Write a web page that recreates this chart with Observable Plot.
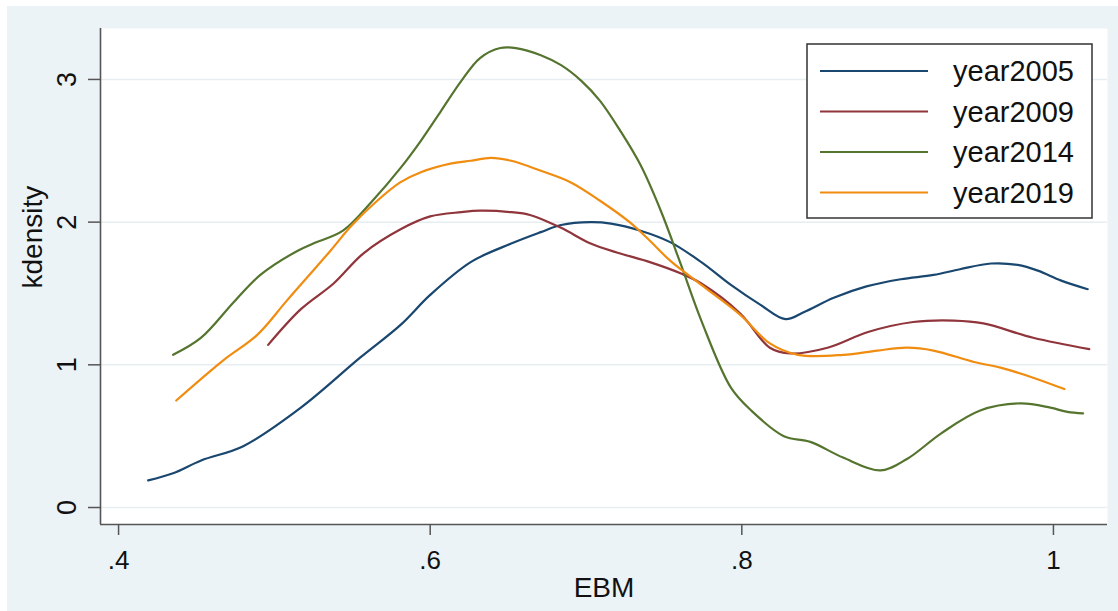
<!DOCTYPE html>
<html>
<head>
<meta charset="utf-8">
<script src="https://cdn.jsdelivr.net/npm/d3@7"></script>
<script src="https://cdn.jsdelivr.net/npm/@observablehq/plot@0.6"></script>
<style>
  html, body { margin: 0; padding: 0; background: #ffffff; }
  #wrap { position: relative; width: 1118px; height: 611px; overflow: hidden; font-family: "Liberation Sans", Arial, sans-serif; }
  #bg { position: absolute; left: 7px; top: 6px; right: 0; bottom: 0; background: #ecf3f6; }
  #chart { position: absolute; left: 0; top: 0; }
  #legend { position: absolute; left: 0; top: 0; }
</style>
</head>
<body>
<div id="wrap"><div id="bg"></div><div id="chart"></div><svg id="legend" width="1118" height="611"></svg></div>
<script>
// ---- data ----
const years = ["year2005", "year2009", "year2014", "year2019"];
const colors = ["#1a476f", "#90353b", "#55752f", "#f08c10"];

const x2005 = [0.419, 0.435, 0.453, 0.480, 0.517, 0.555, 0.581, 0.600, 0.626, 0.652, 0.671, 0.684, 0.703, 0.716, 0.735, 0.754, 0.774, 0.793, 0.812, 0.828, 0.840, 0.859, 0.880, 0.902, 0.923, 0.940, 0.960, 0.977, 0.990, 1.005, 1.022];
const d2005 = [0.19, 0.24, 0.33, 0.43, 0.70, 1.05, 1.28, 1.49, 1.72, 1.85, 1.93, 1.98, 2.00, 1.99, 1.94, 1.86, 1.72, 1.56, 1.42, 1.32, 1.37, 1.47, 1.55, 1.60, 1.63, 1.67, 1.71, 1.70, 1.66, 1.59, 1.53];

const x2009 = [0.496, 0.517, 0.538, 0.557, 0.581, 0.600, 0.620, 0.632, 0.652, 0.664, 0.684, 0.703, 0.722, 0.741, 0.761, 0.774, 0.799, 0.818, 0.831, 0.855, 0.881, 0.910, 0.936, 0.955, 0.987, 1.023];
const d2009 = [1.14, 1.39, 1.57, 1.78, 1.95, 2.04, 2.07, 2.08, 2.07, 2.05, 1.96, 1.85, 1.78, 1.72, 1.64, 1.57, 1.36, 1.12, 1.08, 1.12, 1.23, 1.30, 1.31, 1.29, 1.19, 1.11];

const x2014 = [0.435, 0.453, 0.474, 0.491, 0.515, 0.525, 0.544, 0.563, 0.581, 0.594, 0.607, 0.620, 0.632, 0.645, 0.655, 0.671, 0.684, 0.697, 0.709, 0.722, 0.735, 0.748, 0.761, 0.774, 0.793, 0.806, 0.827, 0.844, 0.865, 0.889, 0.906, 0.928, 0.953, 0.979, 0.998, 1.009, 1.019];
const d2014 = [1.07, 1.19, 1.44, 1.63, 1.80, 1.85, 1.94, 2.15, 2.38, 2.57, 2.78, 2.99, 3.15, 3.22, 3.22, 3.17, 3.10, 2.99, 2.85, 2.64, 2.40, 2.08, 1.70, 1.31, 0.84, 0.68, 0.50, 0.46, 0.35, 0.26, 0.34, 0.52, 0.68, 0.73, 0.70, 0.67, 0.66];

const x2019 = [0.437, 0.467, 0.489, 0.508, 0.536, 0.549, 0.566, 0.581, 0.594, 0.613, 0.626, 0.639, 0.652, 0.671, 0.690, 0.709, 0.728, 0.741, 0.754, 0.774, 0.799, 0.818, 0.836, 0.865, 0.887, 0.906, 0.923, 0.949, 0.966, 0.987, 1.007];
const d2019 = [0.75, 1.03, 1.21, 1.45, 1.80, 1.97, 2.15, 2.28, 2.35, 2.41, 2.43, 2.45, 2.43, 2.36, 2.28, 2.15, 2.00, 1.87, 1.73, 1.56, 1.35, 1.15, 1.07, 1.07, 1.10, 1.12, 1.10, 1.02, 0.98, 0.91, 0.83];

const xTicks = [0.4, 0.6, 0.8, 1.0];
const xTickLabels = [".4", ".6", ".8", "1"];
const yTicks = [0, 1, 2, 3];
const yTickLabels = ["0", "1", "2", "3"];
const xTitle = "EBM";
const yTitle = "kdensity";

// ---- build table ----
const seriesX = [x2005, x2009, x2014, x2019];
const seriesD = [d2005, d2009, d2014, d2019];
const rows = years.flatMap((yr, s) => seriesX[s].map((x, i) => ({year: yr, ebm: x, density: seriesD[s][i]})));

const xDomain = [0.3884, 1.0347];
const yDomain = [-0.119, 3.357];
const font = "'Liberation Sans', Arial, sans-serif";

const chart = Plot.plot({
  width: 1118,
  height: 611,
  marginLeft: 100,
  marginRight: 11,
  marginTop: 28,
  marginBottom: 87,
  style: {background: "transparent", fontFamily: font, color: "#111"},
  x: {domain: xDomain},
  y: {domain: yDomain},
  color: {domain: years, range: colors},
  marks: [
    Plot.frame({fill: "white", stroke: null}),
    Plot.gridY(yTicks, {stroke: "#e6eef2", strokeOpacity: 1, strokeWidth: 1.5}),
    Plot.line(rows, {x: "ebm", y: "density", z: "year", stroke: "year", strokeWidth: 2.2, curve: "catmull-rom"}),
    Plot.ruleX([xDomain[0]], {stroke: "#555", strokeWidth: 1.6}),
    Plot.ruleY([yDomain[0]], {stroke: "#555", strokeWidth: 1.6}),
    Plot.axisX(xTicks, {tickSize: 11, tickPadding: 15, stroke: "#555", strokeWidth: 1.5, fontSize: 26, fill: "#111",
      tickFormat: d => xTickLabels[xTicks.indexOf(d)], label: null}),
    Plot.axisY(yTicks, {tickSize: 12, stroke: "#555", strokeWidth: 1.5, tickFormat: () => "", label: null}),
    Plot.text(yTicks, {y: d => d, frameAnchor: "left", dx: -33, rotate: -90, fontSize: 27, fill: "#111",
      text: d => yTickLabels[yTicks.indexOf(d)], textAnchor: "middle", lineAnchor: "middle"}),
    Plot.text([yTitle], {frameAnchor: "left", dx: -67, dy: 12, rotate: -90, fontSize: 28, fill: "#111", lineAnchor: "middle"}),
    Plot.text([xTitle], {frameAnchor: "bottom", dy: 64, fontSize: 28, fill: "#111", lineAnchor: "middle"})
  ]
});
document.getElementById("chart").appendChild(chart);

// ---- legend (overlay) ----
const lg = d3.select("#legend");
const box = {x: 807, y: 44, w: 285, h: 174};
lg.append("rect").attr("x", box.x).attr("y", box.y).attr("width", box.w).attr("height", box.h)
  .attr("fill", "white").attr("stroke", "#333").attr("stroke-width", 1.5);
const row = lg.selectAll("g.row").data(years).join("g").attr("class", "row")
  .attr("transform", (d, i) => `translate(0, ${71 + i * 40.5})`);
row.append("line").attr("x1", 820).attr("x2", 928).attr("y1", 0).attr("y2", 0)
  .attr("stroke", (d, i) => colors[i]).attr("stroke-width", 2.2);
row.append("text").attr("x", 953).attr("y", 0).attr("dy", "0.35em").text(d => d)
  .attr("font-family", font).attr("font-size", 29).attr("fill", "#111");
</script>
</body>
</html>
